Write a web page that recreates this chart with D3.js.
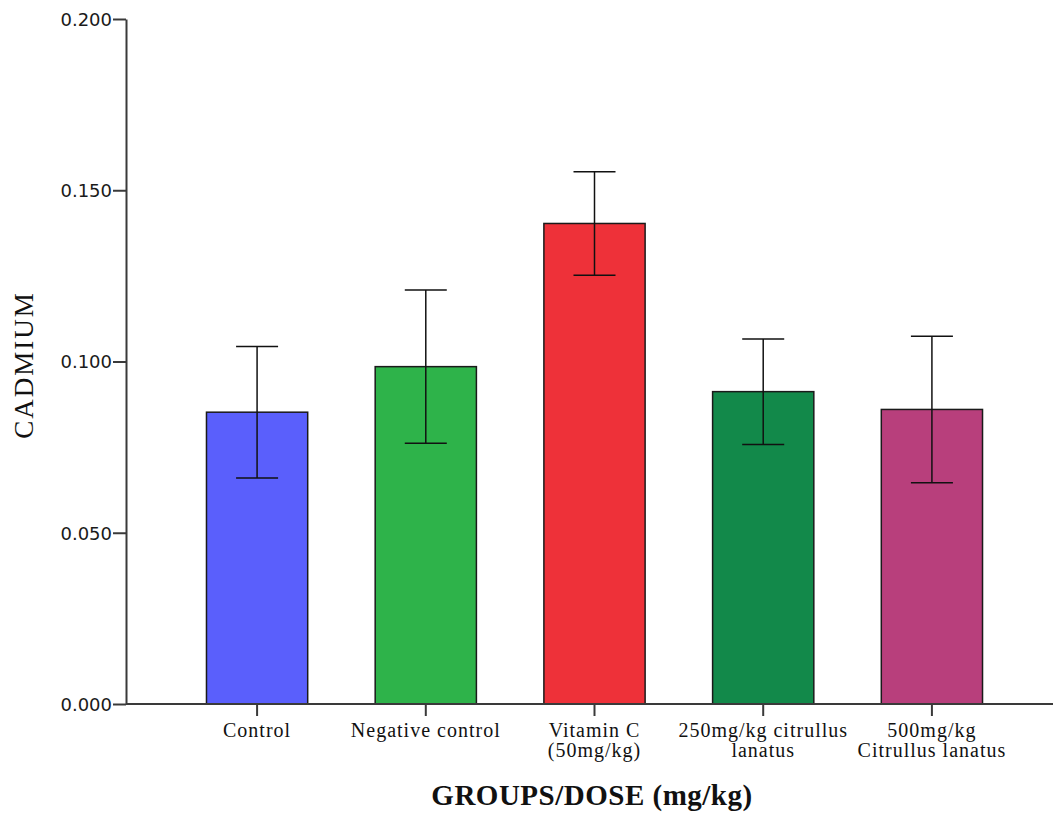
<!DOCTYPE html>
<html lang="en">
  <head>
    <meta charset="utf-8">
    <title>Cadmium by group</title>
    <script src="https://d3js.org/d3.v7.js"></script>
    <style>
      body { margin: 0; background: white; }
      .yAxis text { font-family: "DejaVu Sans", sans-serif; font-size: 18px; fill: #1a1a1a; }
      .xAxis text { font-family: "Liberation Serif", serif; font-size: 20px; letter-spacing: 1px; fill: #111; }
      .axis-title { font-family: "Liberation Serif", serif; fill: #111; }
    </style>
  </head>
  <body>
  <script>

// data
var groups = ["Control", "Negative control", "Vitamin C (50mg/kg)", "250mg/kg citrullus lanatus", "500mg/kg Citrullus lanatus"];
var labelLines = [["Control"], ["Negative control"], ["Vitamin C", "(50mg/kg)"], ["250mg/kg citrullus", "lanatus"], ["500mg/kg", "Citrullus lanatus"]];
var means = [0.0852, 0.0985, 0.1403, 0.0912, 0.0860];
var errors = [0.0192, 0.0224, 0.0151, 0.0154, 0.0214];
var colors = ["#5a5ffc", "#2eb34a", "#ee3139", "#12894a", "#b83f7c"];
var yTicks = [0, 0.05, 0.1, 0.15, 0.2];

var w = 1053;
var h = 819;
var axisColor = "#3a3a3a";

var data = groups.map(function(g, i) {
  return {group: g, lines: labelLines[i], mean: means[i], err: errors[i], color: colors[i]};
});

var svg = d3.select("body")
  .append("svg")
    .attr("width", w)
    .attr("height", h);

var yScale = d3.scaleLinear()
    .domain([0, 0.2])
    .range([704, 19]);

var xScale = d3.scaleBand()
    .domain(groups)
    .range([126, 1063])
    .paddingInner(0.4)
    .paddingOuter(0.477);

//bars
svg.selectAll(".bar")
  .data(data)
  .join("rect")
    .attr("class", "bar")
    .attr("x", d => xScale(d.group))
    .attr("y", d => yScale(d.mean))
    .attr("width", xScale.bandwidth())
    .attr("height", d => yScale(0) - yScale(d.mean))
    .attr("fill", d => d.color)
    .attr("stroke", "#1a1a1a")
    .attr("stroke-width", 1.5);

//error bars
var capHalf = 21;
var eb = svg.selectAll(".err")
  .data(data)
  .join("g")
    .attr("class", "err")
    .attr("stroke", "#111")
    .attr("stroke-width", 1.5);

eb.append("line")
    .attr("x1", d => xScale(d.group) + xScale.bandwidth() / 2)
    .attr("x2", d => xScale(d.group) + xScale.bandwidth() / 2)
    .attr("y1", d => yScale(d.mean + d.err))
    .attr("y2", d => yScale(d.mean - d.err));
eb.append("line")
    .attr("x1", d => xScale(d.group) + xScale.bandwidth() / 2 - capHalf)
    .attr("x2", d => xScale(d.group) + xScale.bandwidth() / 2 + capHalf)
    .attr("y1", d => yScale(d.mean + d.err))
    .attr("y2", d => yScale(d.mean + d.err));
eb.append("line")
    .attr("x1", d => xScale(d.group) + xScale.bandwidth() / 2 - capHalf)
    .attr("x2", d => xScale(d.group) + xScale.bandwidth() / 2 + capHalf)
    .attr("y1", d => yScale(d.mean - d.err))
    .attr("y2", d => yScale(d.mean - d.err));

//y axis
var yAxis = d3.axisLeft(yScale)
    .tickValues(yTicks)
    .tickFormat(d3.format(".3f"))
    .tickSize(13)
    .tickSizeOuter(0)
    .tickPadding(1);
var gy = svg.append("g")
    .attr("class", "yAxis")
    .attr("transform", "translate(126,0)")
    .call(yAxis);
gy.select(".domain").attr("stroke", axisColor).attr("stroke-width", 2);
gy.selectAll(".tick line").attr("stroke", axisColor).attr("stroke-width", 2);
gy.selectAll(".tick text").attr("dy", "0.36em");

//x axis
var xAxis = d3.axisBottom(xScale)
    .tickSize(12)
    .tickSizeOuter(0)
    .tickPadding(4);
var gx = svg.append("g")
    .attr("class", "xAxis")
    .attr("transform", "translate(0,704)")
    .call(xAxis);
gx.select(".domain").remove();
gx.append("line")
    .attr("x1", 126)
    .attr("x2", w)
    .attr("y1", 0)
    .attr("y2", 0)
    .attr("stroke", axisColor)
    .attr("stroke-width", 2);
gx.selectAll(".tick line").attr("stroke", axisColor).attr("stroke-width", 2);
gx.selectAll(".tick text")
    .text(null)
    .attr("y", 0)
    .attr("dy", null)
    .selectAll("tspan")
    .data((d, i) => labelLines[i])
    .join("tspan")
      .attr("x", 0)
      .attr("y", (d, i) => 33 + i * 20)
      .text(d => d);

//axis titles
svg.append("text")
    .attr("class", "axis-title")
    .attr("text-anchor", "middle")
    .attr("x", 592)
    .attr("y", 805)
    .style("font-size", "29px")
    .style("font-weight", "bold")
    .style("letter-spacing", "0.5px")
    .text("GROUPS/DOSE (mg/kg)");

svg.append("text")
    .attr("class", "axis-title")
    .attr("text-anchor", "middle")
    .attr("transform", "translate(33,365) rotate(-90)")
    .style("font-size", "27px")
    .style("letter-spacing", "2px")
    .text("CADMIUM");

  </script>
  </body>
</html>
